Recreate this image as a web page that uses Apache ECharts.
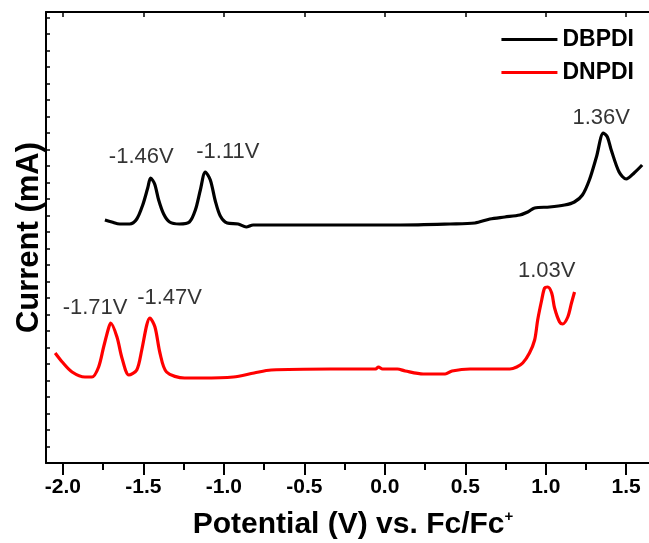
<!DOCTYPE html>
<html lang="en">
<head>
    <meta charset="UTF-8">
    <title>CV</title>
    <script src="https://cdn.jsdelivr.net/npm/echarts@6/dist/echarts.min.js"></script>
    <style>
        html, body { margin: 0; padding: 0; background: #fff; }
        #cv { width: 649px; height: 543px; }
    </style>
</head>
<body>
<div id="cv"></div>
<script>
    // potential (V vs Fc/Fc+) and current (arb. units)
    const dbpdiX = [-1.739, -1.696, -1.646, -1.585, -1.541, -1.504, -1.473, -1.455, -1.430, -1.405, -1.374, -1.337, -1.276,
        -1.214, -1.177, -1.146, -1.115, -1.084, -1.053, -1.022, -0.979, -0.911, -0.861, -0.818, -0.521, -0.212, 0.097,
        0.406, 0.560, 0.653, 0.746, 0.839, 0.888, 0.931, 1.024, 1.117, 1.178, 1.228, 1.271, 1.315, 1.358, 1.383, 1.407,
        1.456, 1.500, 1.549, 1.599];
    const dbpdiY = [243, 241, 239, 239, 244, 258, 275, 285, 279, 263, 249, 241, 239,
        241, 253, 273, 291, 283, 262, 247, 240, 239, 236, 238, 238, 238, 238,
        239, 240, 244, 246, 248, 251, 255, 256, 258, 261, 268, 283, 306, 330, 326, 313,
        291, 284, 290, 298];

    const dnpdiX = [-2.048, -2.004, -1.943, -1.863, -1.819, -1.778, -1.747, -1.716, -1.703, -1.664, -1.633, -1.590, -1.541,
        -1.510, -1.479, -1.460, -1.428, -1.397, -1.356, -1.244, -1.139, -0.941, -0.812, -0.706, -0.336, -0.057, -0.039,
        -0.014, 0.078, 0.127, 0.239, 0.375, 0.418, 0.530, 0.777, 0.820, 0.857, 0.899, 0.931, 0.950, 0.975, 0.993, 1.012,
        1.037, 1.055, 1.086, 1.105, 1.137, 1.160, 1.179];
    const dnpdiY = [110, 101, 91, 86, 86, 96, 116, 135, 140, 126, 105, 88, 93,
        113, 138, 145, 136, 110, 91, 85, 85, 86, 90, 93, 94, 94, 96,
        94, 94, 92, 89, 89, 92, 94, 94, 96, 100, 110, 123, 143, 163, 175, 176,
        170, 155, 141, 139, 146, 160, 171];

    // peak labels
    const peakText = ['-1.46V', '-1.11V', '1.36V', '-1.71V', '-1.47V', '1.03V'];
    const peakX = [-1.513, -0.975, 1.345, -1.800, -1.337, 1.006];
    const peakY = [306, 311, 345, 155, 165, 192];

    const majorTicks = [-2.0, -1.5, -1.0, -0.5, 0.0, 0.5, 1.0, 1.5];
    const minorTicks = [-1.75, -1.25, -0.75, -0.25, 0.25, 0.75, 1.25];

    const zip = (a, b) => a.map((v, i) => [v, b[i]]);

    let chart = echarts.init(document.getElementById('cv'));
    const xMin = -2.105, xMax = 1.71;
    const font = 'Liberation Sans, Arial, sans-serif';

    let option = {
        animation: false,
        grid: {left: 46, top: 12, bottom: 80, right: -11, outerBoundsMode: 'none'},
        legend: {
            data: ['DBPDI', 'DNPDI'],
            orient: 'vertical',
            right: 10,
            top: 21,
            icon: 'rect',
            itemWidth: 56,
            itemHeight: 3,
            itemGap: 6,
            textStyle: {fontFamily: font, fontWeight: 'bold', fontSize: 23, color: '#000', lineHeight: 27}
        },
        xAxis: [
            {
                type: 'value', min: xMin, max: xMax,
                name: '{a|Potential (V) vs. Fc/Fc}{s|+}',
                nameLocation: 'middle', nameGap: 46,
                nameTextStyle: {
                    rich: {
                        a: {fontFamily: font, fontWeight: 'bold', fontSize: 30, color: '#000'},
                        s: {fontFamily: font, fontWeight: 'bold', fontSize: 15, color: '#000', padding: [0, 0, 16, 0]}
                    }
                },
                axisLine: {onZero: false, lineStyle: {color: '#000', width: 2}},
                axisTick: {inside: false, length: 12, lineStyle: {width: 2}, customValues: majorTicks},
                axisLabel: {
                    customValues: majorTicks, margin: 14,
                    fontFamily: font, fontWeight: 'bold', fontSize: 21, color: '#000',
                    formatter: v => v.toFixed(1)
                },
                splitLine: {show: false}
            },
            {
                type: 'value', min: xMin, max: xMax, position: 'bottom',
                axisLine: {show: false, onZero: false},
                axisTick: {inside: false, length: 7, lineStyle: {width: 2, color: '#000'}, customValues: minorTicks},
                axisLabel: {show: false},
                splitLine: {show: false}
            },
            {
                type: 'value', min: xMin, max: xMax, position: 'top',
                axisLine: {onZero: false, lineStyle: {color: '#000', width: 2}},
                axisTick: {inside: true, length: 5, lineStyle: {width: 1.5}, customValues: majorTicks},
                axisLabel: {show: false},
                splitLine: {show: false}
            }
        ],
        yAxis: {
            type: 'value', min: 0, max: 451, interval: 16.5,
            name: 'Current (mA)',
            nameLocation: 'middle', nameGap: 1,
            nameTextStyle: {fontFamily: font, fontWeight: 'bold', fontSize: 31, color: '#000'},
            axisLine: {show: true, onZero: false, lineStyle: {color: '#000', width: 2}},
            axisTick: {show: true, inside: true, length: 4, lineStyle: {width: 1.5}},
            axisLabel: {show: false},
            splitLine: {show: false}
        },
        series: [
            {
                name: 'DBPDI', type: 'line', symbol: 'none', smooth: 0.3,
                data: zip(dbpdiX, dbpdiY),
                lineStyle: {color: '#000', width: 3.2},
                itemStyle: {color: '#000'}
            },
            {
                name: 'DNPDI', type: 'line', symbol: 'none', smooth: 0.3,
                data: zip(dnpdiX, dnpdiY),
                lineStyle: {color: '#ff0000', width: 3.2},
                itemStyle: {color: '#ff0000'}
            },
            {
                name: 'peaks', type: 'scatter', symbolSize: 0, silent: true,
                data: peakText.map((t, i) => ({name: t, value: [peakX[i], peakY[i]]})),
                label: {
                    show: true, position: 'inside', formatter: p => p.name,
                    fontFamily: font, fontSize: 22, color: '#000',
                    textBorderWidth: 0, textBorderColor: 'transparent'
                }
            }
        ]
    };

    chart.setOption(option);
</script>
</body>
</html>
